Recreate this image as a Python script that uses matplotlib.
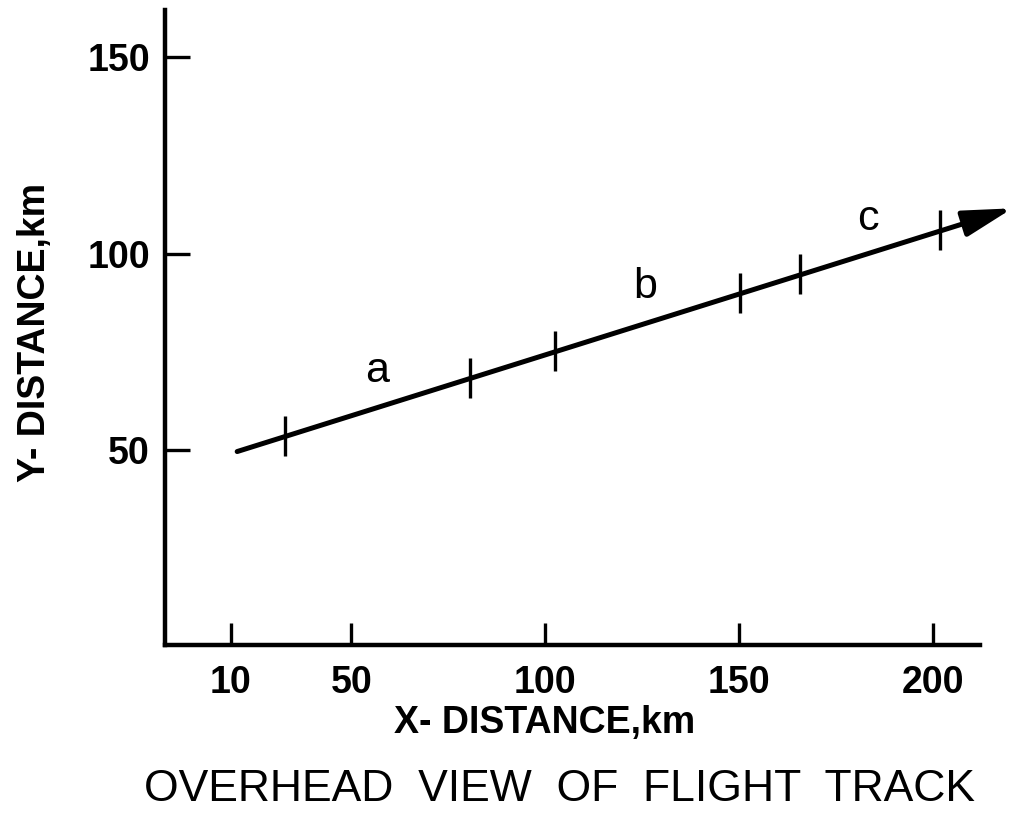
import matplotlib.pyplot as plt

# flight track, km: start point and arrow tip
track_x = [20.6, 220.4]
track_y = [49.7, 111.6]

# fix marks along the track
mark_x = [33.0, 80.7, 102.6, 150.3, 165.7, 201.8]
mark_y = [53.6, 68.4, 75.2, 90.0, 94.8, 106.0]

# leg names and where they are written
leg_names = ["a", "b", "c"]
leg_x = [56.7, 125.8, 183.2]
leg_y = [70.1, 91.5, 109.0]

xtick_values = [19, 50, 100, 150, 200]
xtick_labels = ["10", "50", "100", "150", "200"]
ytick_values = [50, 100, 150]
ytick_labels = ["50", "100", "150"]

SANS = ["Liberation Sans", "DejaVu Sans"]

fig = plt.figure(figsize=(10.2, 8.22), dpi=100)
ax = fig.add_axes([0.162, 0.215, 0.799, 0.7725])

ax.set_xlim(2.06, 212.1)
ax.set_ylim(0.4, 162)

for side in ("top", "right"):
    ax.spines[side].set_visible(False)
for side in ("left", "bottom"):
    ax.spines[side].set_linewidth(3.2)

ax.set_xticks(xtick_values, labels=xtick_labels)
ax.set_yticks(ytick_values, labels=ytick_labels)
ax.tick_params(axis="x", direction="in", length=16, width=2.4, pad=14)
ax.tick_params(axis="y", direction="in", length=18, width=2.4, pad=11)
for lbl in ax.get_xticklabels() + ax.get_yticklabels():
    lbl.set_fontsize(27)
    lbl.set_fontweight("bold")
    lbl.set_family(SANS)

# track with arrow head at the end
ax.annotate(
    "",
    xy=(track_x[1], track_y[1]),
    xytext=(track_x[0], track_y[0]),
    arrowprops=dict(
        arrowstyle="-|>,head_length=1.5,head_width=0.4",
        mutation_scale=20,
        lw=3.6,
        color="black",
        shrinkA=0,
        shrinkB=0,
    ),
    annotation_clip=False,
)
ax.plot(mark_x, mark_y, ls="none", marker="|", ms=29, mew=2.4, color="black")

for name, x, y in zip(leg_names, leg_x, leg_y):
    ax.text(x, y, name, fontsize=31, ha="center", va="center", family=SANS)

fig.text(0.534, 0.121, "X- DISTANCE,km", fontsize=27, ha="center", va="center",
         family=SANS, fontweight="bold")
fig.text(0.034, 0.595, "Y- DISTANCE,km", fontsize=27, ha="center", va="center",
         rotation=90, family=SANS, fontweight="bold")
fig.text(0.549, 0.039, "OVERHEAD  VIEW  OF  FLIGHT  TRACK", fontsize=32,
         ha="center", va="center", family=SANS)

fig.savefig("out.png", dpi=100)
